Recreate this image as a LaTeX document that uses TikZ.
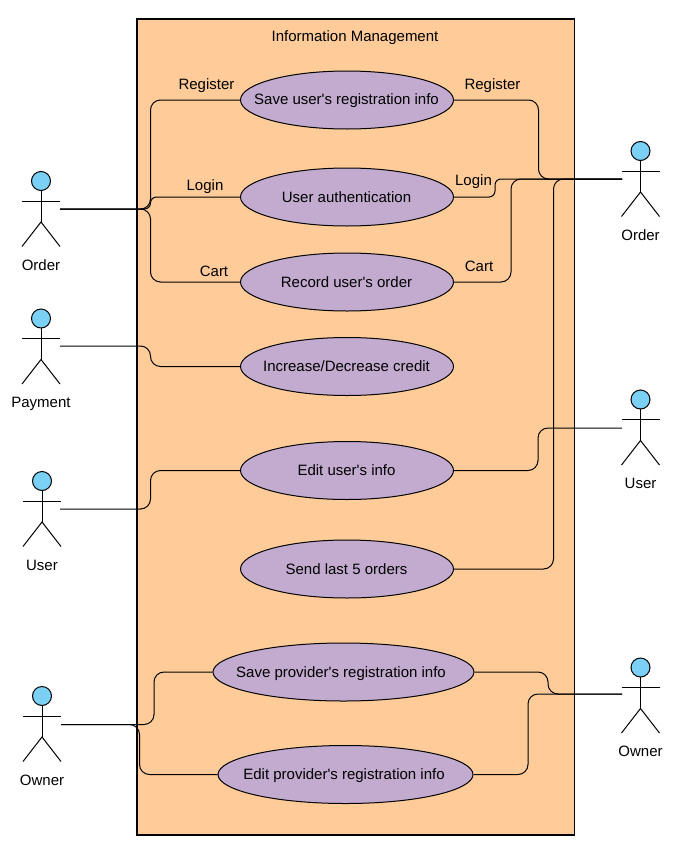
\documentclass[tikz,border=0pt]{standalone}
\usepackage{fontspec}
\setmainfont{Liberation Sans}
\definecolor{boxfill}{HTML}{FFCC99}
\definecolor{casefill}{HTML}{C3ABD0}
\definecolor{headfill}{HTML}{7AD0F5}
\tikzset{
  usecase/.style={draw,ellipse,fill=casefill,line width=1pt,inner sep=0pt,minimum height=58pt},
  link/.style={line width=1pt,rounded corners=10pt},
  limb/.style={line width=1pt},
  lbl/.style={inner sep=0pt,text height=13pt,text depth=3pt,font=\fontsize{15}{17}\selectfont}
}
\usetikzlibrary{shapes.geometric}
% name, x and y of the head, text
\newcommand{\actorfig}[4]{
  \filldraw[limb,fill=headfill] (#2,#3) circle (9.5pt);
  \draw[limb] (#2,#3+9.5) -- (#2,#3+41);
  \draw[limb] (#2-19,#3+20) -- (#2+19,#3+20);
  \draw[limb] (#2-19,#3+65.5) -- (#2,#3+41) -- (#2+19,#3+65.5);
  \node[lbl] (#1) at (#2,#3+84) {#4};
}
\begin{document}
\begin{tikzpicture}[x=1pt,y=-1pt]
  \useasboundingbox (0,0) rectangle (695,857);
  \draw[line width=1.3pt,fill=boxfill] (137,19) rectangle (574.5,835);
  \node[lbl] (title) at (355,36.5) {Information Management};

  \node[usecase,minimum width=213pt] (saveuser) at (347,100) {};
  \node[usecase,minimum width=213pt] (authuser) at (347,197) {};
  \node[usecase,minimum width=213pt] (recorduser) at (347,282) {};
  \node[usecase,minimum width=213pt] (credit) at (347,366.5) {};
  \node[usecase,minimum width=213pt] (edituser) at (347,470.5) {};
  \node[usecase,minimum width=213pt] (lastorders) at (347,569) {};
  \node[usecase,minimum width=261pt] (saveprov) at (343.5,672) {};
  \node[usecase,minimum width=255pt] (editprov) at (345.5,774.5) {};

  \actorfig{orderL}{41}{181}{Order}
  \actorfig{paymentL}{41}{318.5}{Payment}
  \actorfig{userL}{42}{481}{User}
  \actorfig{ownerL}{42}{696}{Owner}
  \actorfig{orderR}{640.5}{151}{Order}
  \actorfig{userR}{640.5}{399.5}{User}
  \actorfig{ownerR}{640.5}{667.5}{Owner}

  \coordinate (orderLport) at (60,209);
  \coordinate (paymentLport) at (60,346);
  \coordinate (userLport) at (60,509);
  \coordinate (ownerLport) at (61,724.5);
  \coordinate (orderRport) at (622,179);
  \coordinate (userRport) at (622,428);
  \coordinate (ownerRport) at (622,694);

  \draw[link] (orderLport) -| (150.5,100) -- (saveuser.west);
  \draw[link,rounded corners=6pt] (orderLport) -| (150.5,197) -- (authuser.west);
  \draw[link] (orderLport) -| (150.5,282) -- (recorduser.west);
  \draw[link] (paymentLport) -| (150.5,366.5) -- (credit.west);
  \draw[link] (userLport) -| (150.5,470.5) -- (edituser.west);
  \draw[link] (ownerLport) -| (154,672) -- (saveprov.west);
  \draw[link] (ownerLport) -| (139.5,774.5) -- (editprov.west);

  \draw[link] (saveuser.east) -| (538.5,179) -- (orderRport);
  \draw[link,rounded corners=6pt] (authuser.east) -| (495,179) -- (orderRport);
  \draw[link] (recorduser.east) -| (511,179) -- (orderRport);
  \draw[link] (edituser.east) -| (538,428) -- (userRport);
  \draw[link] (lastorders.east) -| (553.5,179) -- (orderRport);
  \draw[link] (saveprov.east) -| (548,694) -- (ownerRport);
  \draw[link] (editprov.east) -| (528,694) -- (ownerRport);

  \node[lbl] (saveusertxt) at (346.5,99) {Save user\textquotesingle s registration info};
  \node[lbl] (authusertxt) at (346.5,197) {User authentication};
  \node[lbl] (recordusertxt) at (346.5,282) {Record user\textquotesingle s order};
  \node[lbl] (credittxt) at (346.5,366) {Increase/Decrease credit};
  \node[lbl] (editusertxt) at (346.5,470) {Edit user\textquotesingle s info};
  \node[lbl] (lastorderstxt) at (346.5,569) {Send last 5 orders};
  \node[lbl] (saveprovtxt) at (341,672) {Save provider\textquotesingle s registration info};
  \node[lbl] (editprovtxt) at (344,774) {Edit provider\textquotesingle s registration info};

  \node[lbl] (regL) at (206.5,84) {Register};
  \node[lbl] (logL) at (205,185) {Login};
  \node[lbl] (cartL) at (214,271) {Cart};
  \node[lbl] (regR) at (492.5,84) {Register};
  \node[lbl] (logR) at (473.5,180) {Login};
  \node[lbl] (cartR) at (479,266) {Cart};
\end{tikzpicture}
\end{document}
